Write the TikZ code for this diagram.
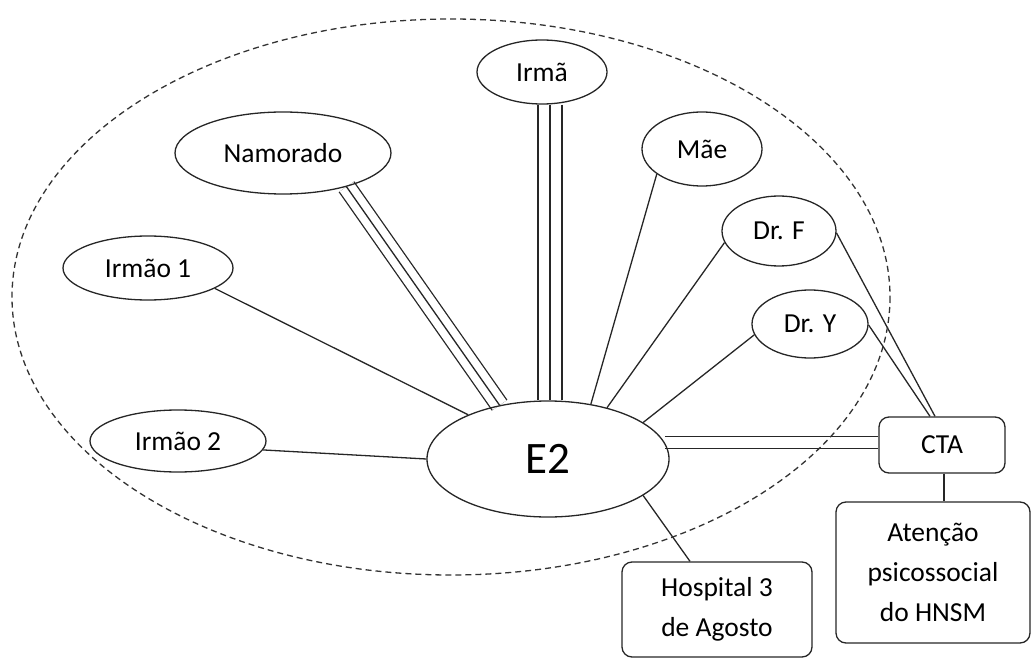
\documentclass[tikz,border=0pt]{standalone}
\usepackage{fontspec}
\setmainfont{Carlito}
\usetikzlibrary{shapes.geometric,backgrounds}
\begin{document}
\begin{tikzpicture}[x=1pt,y=-1pt,
  every node/.style={font=\fontsize{27.5}{40}\selectfont, inner sep=0pt, text=black},
  oval/.style={draw=black!85, ellipse, line width=1.3pt},
  box/.style={draw=black!85, rounded corners=10pt, line width=1.3pt, align=center},
  conn/.style={line width=1.3pt, draw=black!85},
  dbl/.style={line width=1.3pt, draw=black!85, double, double distance=#1},
  ring/.style={dash pattern=on 6pt off 4pt, line width=1.3pt, draw=black!80}]
\useasboundingbox (0,0) rectangle (1036,660);

% nodes
\node[oval, minimum width=130pt, minimum height=64pt] (irma) at (542,72) {Irmã};
\node[oval, minimum width=216pt, minimum height=82pt] (nam) at (283,153) {Namorado};
\node[oval, minimum width=120pt, minimum height=74pt] (mae) at (702,149) {Mãe};
\node[oval, minimum width=114pt, minimum height=70pt] (drf) at (779,231) {Dr. F};
\node[oval, minimum width=116pt, minimum height=68pt] (dry) at (810,324) {Dr. Y};
\node[oval, minimum width=170pt, minimum height=64pt] (i1) at (148,268) {Irmão 1};
\node[oval, minimum width=176pt, minimum height=62pt] (i2) at (178,441) {Irmão 2};
\node[oval, minimum width=242pt, minimum height=116pt, font=\fontsize{45}{50}\selectfont] (e2) at (548,459) {E2};
\node[box, minimum width=126pt, minimum height=56pt] (cta) at (942,445) {CTA};
\node[box, minimum width=194pt, minimum height=141pt] (aten) at (933,572.5) {Atenção\\psicossocial\\do HNSM};
\node[box, minimum width=190pt, minimum height=95pt] (hosp) at (717,609.5) {Hospital 3\\de Agosto};

\begin{scope}[on background layer]
  \draw[conn] (i1.-17) -- (e2.151);
  \draw[conn] (i2.-6) -- (e2.180);
  \draw[dbl=16.5pt] (nam.-28) -- (e2.132);
  \draw[conn] (nam.-28) -- (e2.132);
  \draw[dbl=22.5pt] ([xshift=8pt]irma.south) -- ([xshift=2pt]e2.north);
  \draw[conn] ([xshift=8pt]irma.south) -- ([xshift=2pt]e2.north);
  \draw[conn] (mae.209) -- (e2.52);
  \draw[conn] (drf.192) -- (e2.41);
  \draw[conn] (dry.191) -- (e2.21.5);
  \draw[conn] (drf.-2) -- ([xshift=-7pt]cta.north);
  \draw[conn] (dry.-1) -- ([xshift=-12pt]cta.north);
  \draw[dbl=10.7pt] (e2.8) -- (e2.8 -| cta.west);
  \draw[conn] ([xshift=2pt]cta.south) -- ([xshift=2pt]cta.south |- aten.north);
  \draw[conn] (e2.-21) -- ([xshift=-27pt]hosp.north);
  \draw[ring] (451,297) ellipse [x radius=439, y radius=278];
\end{scope}
\end{tikzpicture}
\end{document}
